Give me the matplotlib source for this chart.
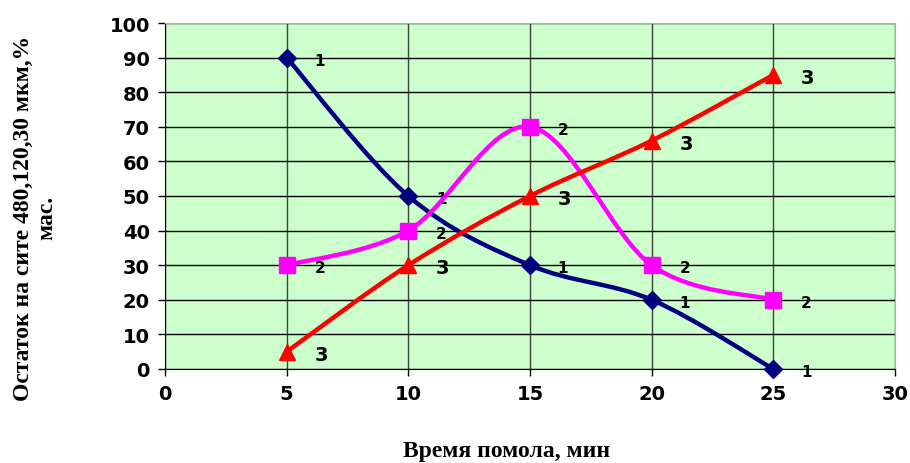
import numpy as np
import matplotlib.pyplot as plt
from matplotlib.path import Path
from matplotlib.patches import PathPatch

# время помола, мин
t = [5, 10, 15, 20, 25]
s1 = [90, 50, 30, 20, 0]
s2 = [30, 40, 70, 30, 20]
s3 = [5, 30, 50, 66, 85]
names = ['1', '2', '3']


def smooth_path(x, y):
    # кривые Безье как в Excel (сглаженная линия)
    p = np.column_stack([x, y]).astype(float)
    n = len(p)
    verts = [p[0]]
    codes = [Path.MOVETO]
    for i in range(n - 1):
        p0 = p[i - 1] if i > 0 else p[i]
        p3 = p[i + 2] if i + 2 < n else p[i + 1]
        c1 = p[i] + (p[i + 1] - p0) / 6
        c2 = p[i + 1] - (p3 - p[i]) / 6
        verts += [c1, c2, p[i + 1]]
        codes += [Path.CURVE4] * 3
    return Path(verts, codes)


fig = plt.figure(figsize=(9.1, 4.64), dpi=100)
ax = fig.add_axes([165 / 910, 1 - 370 / 464, 730 / 910, 346 / 464])
ax.set_facecolor('#ccffcc')

series = [
    (s1, '#000080', 'D', 9, 11),
    (s2, '#ff00ff', 's', 11, 11),
    (s3, '#ff0000', '^', 11, 14),
]
for (vals, col, mk, ms, fs), nm in zip(series, names):
    ax.add_patch(PathPatch(smooth_path(t, vals), fc='none', ec=col, lw=3.2,
                           zorder=3, capstyle='round'))
    ax.plot(t, vals, ls='none', marker=mk, ms=ms, color=col, zorder=4,
            clip_on=False)
    for xi, yi in zip(t, vals):
        ax.annotate(nm, (xi, yi), xytext=(20, -2), textcoords='offset points',
                    fontsize=fs, fontweight='bold', va='center',
                    annotation_clip=False)

ax.set_xlim(0, 30)
ax.set_ylim(0, 100)
ax.set_xticks(range(0, 31, 5))
ax.set_yticks(range(0, 101, 10))
ax.yaxis.grid(True, color='black', lw=1)
ax.xaxis.grid(True, color='#404040', lw=1)
ax.set_axisbelow(True)
for sp in ['top', 'right']:
    ax.spines[sp].set_color('#b0b0b0')
for sp in ['left', 'bottom']:
    ax.spines[sp].set_color('black')
ax.tick_params(direction='out', length=5, width=1, pad=6)
for lab in ax.get_xticklabels() + ax.get_yticklabels():
    lab.set_fontweight('bold')
    lab.set_fontsize(14)

fig.text(507 / 910, 1 - 452 / 464, 'Время помола, мин', ha='center', va='center',
         fontsize=17, fontweight='bold', family='Liberation Serif')
fig.text(35 / 910, 1 - 218 / 464, 'Остаток на сите 480,120,30 мкм,%\nмас.',
         ha='center', va='center', rotation=90, fontsize=17, fontweight='bold',
         family='Liberation Serif', linespacing=1.15)

fig.savefig('out.png', dpi=100)
